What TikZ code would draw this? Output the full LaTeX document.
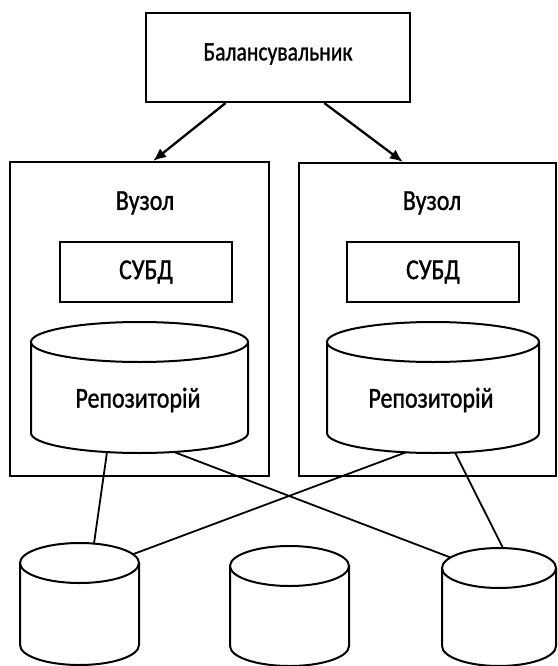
\documentclass[tikz,border=0pt]{standalone}
\usepackage{fontspec}
\setmainfont{Carlito}
\newfontfamily\heavy{Carlito}[FakeBold=1.2]
\usepackage{graphicx}
\usetikzlibrary{arrows.meta,calc}
\tikzset{
  box/.style={draw, line width=2.1pt, fill=white, inner sep=0pt},
  lbl/.style={font=\heavy\fontsize{24}{28}\selectfont, inner sep=0pt},
  cyl/.style={line width=2pt, fill=white},
  link/.style={line width=1.8pt},
  arr/.style={line width=2.3pt, -{Latex[length=13pt,width=11pt]}},
}
\newcommand{\tallt}[1]{\scalebox{1}[1.2]{#1}}
% cx, top y, bottom y, rx, ry
\newcommand{\mycyl}[5]{%
  \draw[cyl] ({#1-#4},#2) -- ({#1-#4},#3) arc[start angle=180,end angle=360,x radius=#4pt,y radius=#5pt] -- ({#1+#4},#2);
  \draw[cyl] (#1,#2) ellipse[x radius=#4pt, y radius=#5pt];
}
\begin{document}
\begin{tikzpicture}[x=1pt,y=-1pt]
\useasboundingbox (0,0) rectangle (557,666);
\fill[white] (0,0) rectangle (557,666);

% balancer
\node[box, minimum width=264pt, minimum height=89pt] (bal) at (278,57.5) {};
\node[lbl] (balt) at (278,54) {\scalebox{0.9}[1.1]{Балансувальник}};

% node boxes
\node[box, minimum width=259pt, minimum height=314pt] (nodeL) at (139.5,319) {};
\node[box, minimum width=257pt, minimum height=313pt] (nodeR) at (427.5,319.5) {};

\node[lbl] (vL) at (145,203) {\tallt{Вузол}};
\node[lbl] (vR) at (432,203) {\tallt{Вузол}};

\node[box, lbl, minimum width=172pt, minimum height=60pt] (dbmsL) at (146,272) {\tallt{СУБД}};
\node[box, lbl, minimum width=172pt, minimum height=60pt] (dbmsR) at (433,272) {\tallt{СУБД}};

% repositories
\mycyl{139.5}{342}{433}{108.5}{20}
\mycyl{433}{342}{433}{106}{20}
\coordinate (repoL) at (139.5,433);
\coordinate (repoR) at (433,433);
\node[lbl] (repoLt) at (138,400) {\tallt{Репозиторій}};
\node[lbl] (repoRt) at (431,400) {\tallt{Репозиторій}};

% storage cylinders
\mycyl{79.5}{563}{645}{59.5}{20}
\mycyl{289.5}{566}{646}{59.5}{20}
\mycyl{499}{568}{646}{57}{20}
\coordinate (cylA) at (79.5,563);
\coordinate (cylB) at (289.5,566);
\coordinate (cylC) at (499,568);

% arrows
\draw[arr] ($(bal.south west)!0.303!(bal.south east)$) -- ($(nodeL.north west)!0.552!(nodeL.north east)$);
\draw[arr] ($(bal.south west)!0.674!(bal.south east)$) -- ($(nodeR.north west)!0.405!(nodeR.north east)$);

% links
\draw[link] ($(repoL)+(-32.5,19.1)$) -- ($(cylA)+(14.5,-19.4)$);
\draw[link] ($(repoL)+(34.5,19)$) -- ($(cylC)+(-49,-10.7)$);
\draw[link] ($(repoR)+(-27,19.3)$) -- ($(cylA)+(53.5,-8.8)$);
\draw[link] ($(repoR)+(22,19.5)$) -- ($(cylC)+(4,-19.9)$);
\end{tikzpicture}
\end{document}
